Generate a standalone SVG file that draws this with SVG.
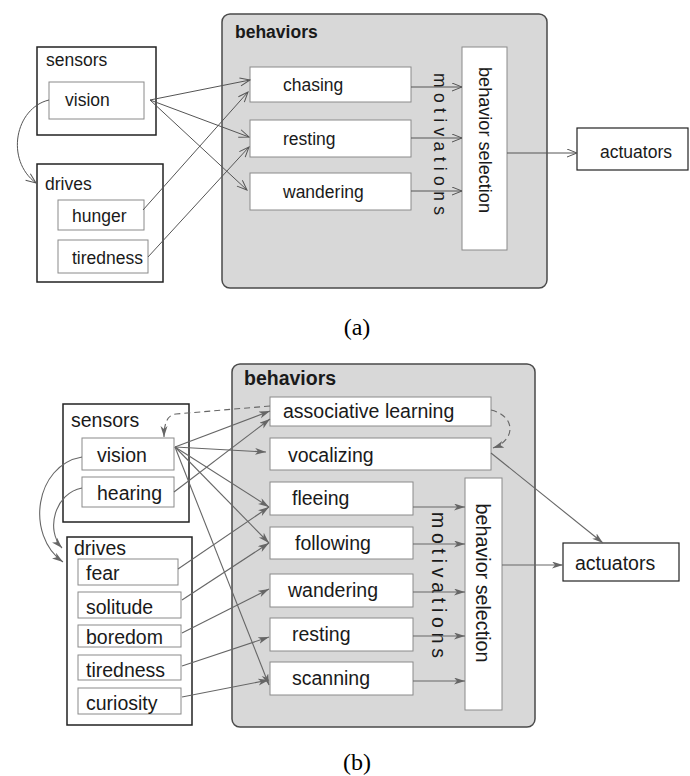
<svg xmlns="http://www.w3.org/2000/svg" width="690" height="776" viewBox="0 0 690 776">
  <style>
    text { font-family: "Liberation Sans", Arial, sans-serif; fill: #1a1a1a; }
    .ta { font-size: 17.5px; }
    .tb { font-size: 19.5px; }
    .bold { font-weight: bold; }
    .cap { font-family: "Liberation Serif", "Times New Roman", serif; font-size: 24px; fill: #000; }
    .group { fill: #d8d8d8; stroke: #4a4a4a; stroke-width: 1.5; }
    .outer { fill: #fff; stroke: #222; stroke-width: 1.5; }
    .inner { fill: #fff; stroke: #8a8a8a; stroke-width: 1; }
    .la { fill: none; stroke: #555; stroke-width: 1; marker-end: url(#openV); }
    .lb { fill: none; stroke: #666; stroke-width: 1.1; marker-end: url(#barb); }
    .dash { stroke-dasharray: 6 4; }
  </style>
  <defs>
    <marker id="openV" markerUnits="userSpaceOnUse" markerWidth="12" markerHeight="10" refX="11" refY="4.5" orient="auto">
      <path d="M1,0.5 L11,4.5 L1,8.5" fill="none" stroke="#555" stroke-width="1"/>
    </marker>
    <marker id="barb" markerUnits="userSpaceOnUse" markerWidth="12" markerHeight="8" refX="11" refY="3.5" orient="auto">
      <path d="M0,0 L11,3.5 L0,7 L3,3.5 z" fill="#666"/>
    </marker>
  </defs>
  <rect width="690" height="776" fill="#fff"/>

  <!-- ===== (a) ===== -->
  <g id="a-behaviors">
    <rect class="group" x="222" y="14" width="325" height="274" rx="8"/>
    <text class="ta bold" x="235" y="38">behaviors</text>
  </g>
  <g id="a-sensors">
    <rect class="outer" x="37" y="47" width="119" height="88"/>
    <text class="ta" x="46" y="66">sensors</text>
  </g>
  <g id="a-vision">
    <rect class="inner" x="49" y="82" width="95" height="37"/>
    <text class="ta" x="65" y="106">vision</text>
  </g>
  <g id="a-drives">
    <rect class="outer" x="37" y="164" width="126" height="118"/>
    <text class="ta" x="45" y="190">drives</text>
  </g>
  <g id="a-hunger">
    <rect class="inner" x="58" y="200" width="86" height="30"/>
    <text class="ta" x="72" y="222">hunger</text>
  </g>
  <g id="a-tiredness">
    <rect class="inner" x="58" y="240" width="90" height="33"/>
    <text class="ta" x="72" y="264">tiredness</text>
  </g>
  <g id="a-chasing">
    <rect class="inner" x="250" y="67" width="161" height="35"/>
    <text class="ta" x="283" y="91">chasing</text>
  </g>
  <g id="a-resting">
    <rect class="inner" x="250" y="120" width="161" height="37"/>
    <text class="ta" x="283" y="145">resting</text>
  </g>
  <g id="a-wandering">
    <rect class="inner" x="250" y="173" width="161" height="37"/>
    <text class="ta" x="283" y="198">wandering</text>
  </g>
  <g id="a-motivations">
    <text class="ta" transform="translate(440,144) rotate(90)" x="0" y="6" text-anchor="middle" textLength="142" lengthAdjust="spacing">motivations</text>
  </g>
  <g id="a-selection">
    <rect class="inner" x="462" y="47" width="45" height="203"/>
    <text class="ta" transform="translate(485,140) rotate(90)" x="0" y="6" text-anchor="middle" textLength="146" lengthAdjust="spacingAndGlyphs">behavior selection</text>
  </g>
  <g id="a-actuators">
    <rect class="outer" x="577" y="128" width="111" height="42" style="stroke-width:1.2"/>
    <text class="ta" x="600" y="158">actuators</text>
  </g>

  <g id="a-connectors">
    <path class="la" d="M150,100 L250,80"/>
    <path class="la" d="M150,100 L249,137"/>
    <path class="la" d="M150,100 L247,190"/>
    <path class="la" d="M143,210 L248,92"/>
    <path class="la" d="M148,257 L249,147"/>
    <path class="la" d="M411,87 L462,87"/>
    <path class="la" d="M411,138 L462,138"/>
    <path class="la" d="M411,191 L462,191"/>
    <path class="la" d="M507,153 L577,153"/>
    <path class="la" d="M49,100 C15,108 5,160 36,183"/>
  </g>

  <text class="cap" x="357" y="335" text-anchor="middle">(a)</text>

  <!-- ===== (b) ===== -->
  <g id="b-behaviors">
    <rect class="group" x="232" y="364" width="303" height="363" rx="8"/>
    <text class="tb bold" x="244" y="385">behaviors</text>
  </g>
  <g id="b-sensors">
    <rect class="outer" x="63" y="404" width="126" height="118"/>
    <text class="tb" x="71" y="427">sensors</text>
  </g>
  <g id="b-vision">
    <rect class="inner" x="82" y="438" width="92" height="32"/>
    <text class="tb" x="97" y="462">vision</text>
  </g>
  <g id="b-hearing">
    <rect class="inner" x="82" y="477" width="92" height="30"/>
    <text class="tb" x="97" y="500">hearing</text>
  </g>
  <g id="b-drives">
    <rect class="outer" x="67" y="537" width="125" height="188"/>
    <text class="tb" x="74" y="555">drives</text>
  </g>
  <g id="b-fear">
    <rect class="inner" x="78" y="559" width="100" height="26"/>
    <text class="tb" x="86" y="580">fear</text>
  </g>
  <g id="b-solitude">
    <rect class="inner" x="78" y="592" width="103" height="26"/>
    <text class="tb" x="86" y="614">solitude</text>
  </g>
  <g id="b-boredom">
    <rect class="inner" x="78" y="625" width="103" height="22"/>
    <text class="tb" x="86" y="644">boredom</text>
  </g>
  <g id="b-tiredness">
    <rect class="inner" x="78" y="655" width="103" height="25"/>
    <text class="tb" x="86" y="677">tiredness</text>
  </g>
  <g id="b-curiosity">
    <rect class="inner" x="78" y="688" width="103" height="26"/>
    <text class="tb" x="86" y="710">curiosity</text>
  </g>
  <g id="b-associative">
    <rect class="inner" x="270" y="397" width="221" height="29"/>
    <text class="tb" x="283" y="418">associative learning</text>
  </g>
  <g id="b-vocalizing">
    <rect class="inner" x="270" y="438" width="221" height="32"/>
    <text class="tb" x="288" y="462">vocalizing</text>
  </g>
  <g id="b-fleeing">
    <rect class="inner" x="270" y="482" width="143" height="33"/>
    <text class="tb" x="292" y="505">fleeing</text>
  </g>
  <g id="b-following">
    <rect class="inner" x="270" y="527" width="143" height="32"/>
    <text class="tb" x="295" y="550">following</text>
  </g>
  <g id="b-wandering">
    <rect class="inner" x="270" y="574" width="143" height="33"/>
    <text class="tb" x="288" y="597">wandering</text>
  </g>
  <g id="b-resting">
    <rect class="inner" x="270" y="618" width="143" height="33"/>
    <text class="tb" x="292" y="641">resting</text>
  </g>
  <g id="b-scanning">
    <rect class="inner" x="270" y="662" width="143" height="33"/>
    <text class="tb" x="292" y="685">scanning</text>
  </g>
  <g id="b-motivations">
    <text class="tb" transform="translate(438,585) rotate(90)" x="0" y="6" text-anchor="middle" textLength="146" lengthAdjust="spacing">motivations</text>
  </g>
  <g id="b-selection">
    <rect class="inner" x="465" y="478" width="37" height="232"/>
    <text class="tb" transform="translate(482,583) rotate(90)" x="0" y="6.5" text-anchor="middle" textLength="159" lengthAdjust="spacingAndGlyphs">behavior selection</text>
  </g>
  <g id="b-actuators">
    <rect class="outer" x="563" y="543" width="116" height="38" style="stroke-width:1.2"/>
    <text class="tb" x="575" y="570">actuators</text>
  </g>

  <g id="b-connectors">
    <path class="lb" d="M175,447 L270,411"/>
    <path class="lb" d="M174,492 L270,419"/>
    <path class="lb" d="M175,447 L266,452"/>
    <path class="lb" d="M175,447 L269,507"/>
    <path class="lb" d="M175,447 L269,543"/>
    <path class="lb" d="M175,447 L269,685"/>
    <path class="lb" d="M178,569 L269,507"/>
    <path class="lb" d="M182,600 L269,543"/>
    <path class="lb" d="M182,633 L269,589"/>
    <path class="lb" d="M182,666 L269,637"/>
    <path class="lb" d="M182,697 L269,680"/>
    <path class="lb" d="M413,507 L465,507"/>
    <path class="lb" d="M413,544 L465,544"/>
    <path class="lb" d="M413,592 L465,592"/>
    <path class="lb" d="M413,636 L465,636"/>
    <path class="lb" d="M413,681 L465,681"/>
    <path class="lb" d="M502,565 L563,565"/>
    <path class="lb" d="M491,453 L603,543"/>
    <path class="lb dash" d="M270,406 L176,414 Q164,415 164,437"/>
    <path class="lb dash" d="M491,410 C516,416 516,440 493,448"/>
    <path class="lb" d="M82,457 C35,465 25,535 63,562"/>
    <path class="lb" d="M82,488 C55,493 45,530 62,548"/>
  </g>

  <text class="cap" x="357" y="770" text-anchor="middle">(b)</text>
</svg>
